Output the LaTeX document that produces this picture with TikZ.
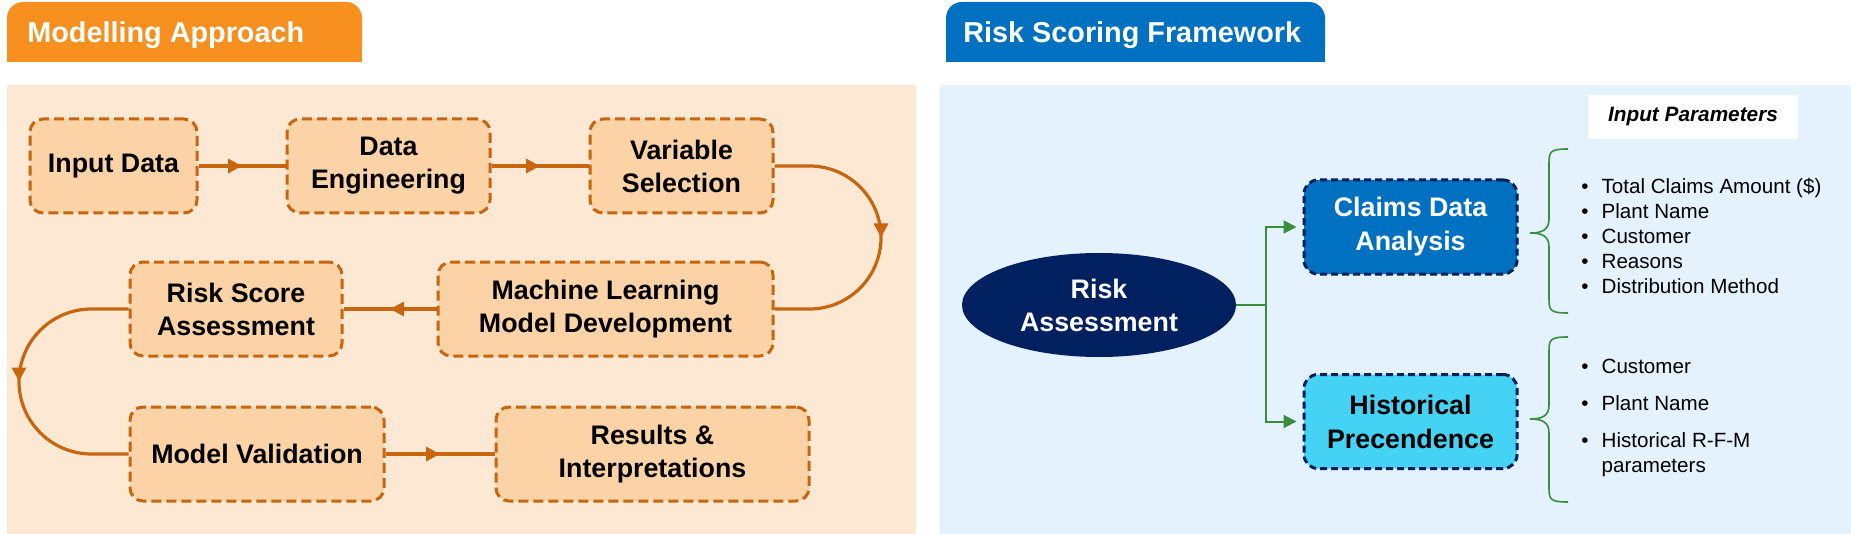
\documentclass[tikz,border=0pt]{standalone}
\usepackage{fontspec}
\setmainfont{Liberation Sans}
\usetikzlibrary{arrows.meta,decorations.markings,shapes.geometric}

\definecolor{taborange}{HTML}{F7901E}
\definecolor{panelpeach}{HTML}{FDE9D3}
\definecolor{boxpeach}{HTML}{FBD3A6}
\definecolor{rust}{HTML}{C8650F}
\definecolor{tabblue}{HTML}{0070C0}
\definecolor{panelblue}{HTML}{E3F2FD}
\definecolor{navy}{HTML}{002060}
\definecolor{skyfill}{HTML}{45D3F5}
\definecolor{leafgreen}{HTML}{388E3C}

\tikzset{
  stepbox/.style={draw=rust, fill=boxpeach, line width=1.5pt, dash pattern=on 5pt off 2.5pt,
    rounded corners=6.5pt, minimum height=47pt, inner sep=0pt, align=center,
    font=\fontsize{13.4}{16.5}\selectfont\bfseries},
  flow/.style={color=rust, line width=1.6pt, postaction={decorate},
    decoration={markings, mark=at position 0.5 with {\arrow{Triangle[length=7pt,width=7pt]}}}},
  riskbox/.style={draw=navy, line width=1.5pt, dash pattern=on 3.5pt off 2pt,
    rounded corners=7pt, minimum width=106.5pt, minimum height=47pt, inner sep=0pt, align=center,
    font=\fontsize{13.4}{17}\selectfont\bfseries},
  branch/.style={draw=leafgreen, line width=1pt, -{Triangle[length=6.5pt,width=6.5pt]}, shorten >=3pt},
  paramcurl/.style={draw=leafgreen, line width=0.8pt},
  paramlist/.style={anchor=north west, inner sep=0pt, font=\fontsize{10.3}{12.5}\selectfont},
  tabtitle/.style={text=white, anchor=base west, inner sep=0pt, font=\fontsize{14.4}{17}\selectfont\bfseries}
}

\begin{document}
\begin{tikzpicture}[x=0.5pt, y=-0.5pt]

\useasboundingbox (0,0) rectangle (1851,534);

\fill[panelpeach] (7,85) rectangle (916,534);

\fill[panelblue] (940,85) rectangle (1851,534);


\fill[taborange, rounded corners=8pt] (7,2) rectangle (362,62);
\fill[taborange] (7,30) rectangle (362,62);

\node[tabtitle] (modtitle) at (27,43) {Modelling Approach};

\fill[tabblue, rounded corners=8pt] (946,2) rectangle (1325,62);
\fill[tabblue] (946,30) rectangle (1325,62);

\node[tabtitle] (risktitle) at (963,43) {Risk Scoring Framework};


\node[stepbox, minimum width=83.5pt] (input) at (113.5,166) {Input Data};

\node[stepbox, minimum width=101.5pt] (dataeng) at (388.5,166) {Data\\Engineering};

\node[stepbox, minimum width=91.5pt] (varsel) at (681.5,166) {Variable\\Selection};

\node[stepbox, minimum width=167.5pt] (mldev) at (605.5,309) {Machine Learning\\Model Development};

\node[stepbox, minimum width=106pt] (riskscore) at (236,309) {Risk Score\\Assessment};

\node[stepbox, minimum width=127pt] (modelval) at (257,454) {Model Validation};

\node[stepbox, minimum width=156.5pt] (results) at (652.5,454) {Results \&\\Interpretations};


\draw[flow] (input) -- (dataeng);

\draw[flow] (dataeng) -- (varsel);

\draw[flow] (varsel.east) -- ++(35,0) arc[start angle=-90, end angle=90, radius=71.5] -- (mldev.east);

\draw[flow] (mldev) -- (riskscore);

\draw[flow] (riskscore.west) -- ++(-37,0) arc[start angle=270, end angle=90, radius=72.5] -- (modelval.west);

\draw[flow] (modelval) -- (results);


\node[ellipse, fill=navy, text=white, minimum width=137pt, minimum height=52pt, inner sep=0pt,
  align=center, font=\fontsize{13.4}{16.5}\selectfont\bfseries] (riskassess) at (1099,305) {Risk\\Assessment};

\node[riskbox, fill=tabblue, text=white] (claims) at (1410.5,227) {Claims Data\\Analysis};

\node[riskbox, fill=skyfill] (historical) at (1410.5,421.5) {Historical\\Precendence};

\coordinate (fork) at (1266,305);

\draw[leafgreen, line width=1pt] (riskassess.east) -- (fork);

\draw[branch] (fork) |- (claims.west);

\draw[branch] (fork) |- (historical.west);


\node[fill=white, minimum width=105pt, minimum height=22pt, inner sep=0pt,
  font=\fontsize{10.4}{12}\selectfont\bfseries\itshape] (inparams) at (1693,117) {Input Parameters};

\draw[paramcurl] (1568,149) .. controls (1549,149) and (1549,152) .. (1549,165) -- (1549,219)
  .. controls (1549,230) and (1542,233) .. (1530,233) .. controls (1542,233) and (1549,236) .. (1549,247)
  -- (1549,297) .. controls (1549,310) and (1549,313) .. (1568,313);

\draw[paramcurl] (1568,337) .. controls (1549,337) and (1549,340) .. (1549,353) -- (1549,405)
  .. controls (1549,416) and (1542,419) .. (1530,419) .. controls (1542,419) and (1549,422) .. (1549,433)
  -- (1549,486) .. controls (1549,499) and (1549,502) .. (1568,502);

\node[paramlist] (claimlist) at (1581,175.5) {\begin{tabular}{@{}l@{\hspace{6.5pt}}l@{}}
  \textbullet & Total Claims Amount (\$)\\
  \textbullet & Plant Name\\
  \textbullet & Customer\\
  \textbullet & Reasons\\
  \textbullet & Distribution Method
\end{tabular}};

\node[paramlist] (histlist) at (1581,355.5) {\begin{tabular}{@{}l@{\hspace{6.5pt}}l@{}}
  \textbullet & Customer\\[6pt]
  \textbullet & Plant Name\\[6pt]
  \textbullet & Historical R-F-M\\
  & parameters
\end{tabular}};

\end{tikzpicture}
\end{document}
